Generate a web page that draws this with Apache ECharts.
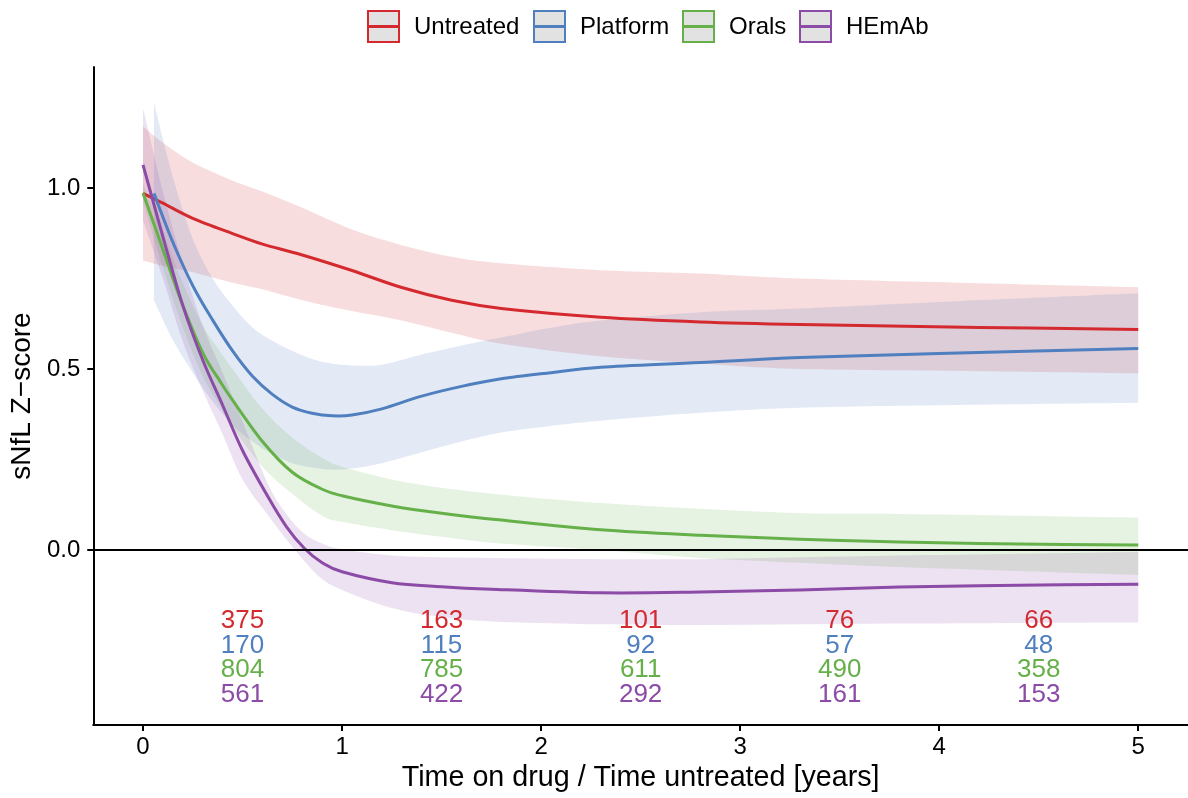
<!DOCTYPE html>
<html>
<head>
<meta charset="utf-8">
<script src="https://cdn.jsdelivr.net/npm/echarts@6/dist/echarts.min.js"></script>
<style>
html,body{margin:0;padding:0;background:#fff;}
#chart{width:1188px;height:798px;}
</style>
</head>
<body>
<div id="chart"></div>
<script>
// ---------------- data ----------------
const groupNames = ['Untreated', 'Platform', 'Orals', 'HEmAb'];
const groupColors = ['#D42A2F', '#4F7FBF', '#66B04A', '#8B4BA6'];

const untreatedX   = [0, 0.1, 0.25, 0.45, 0.6, 0.8, 1.05, 1.3, 1.55, 1.8, 2.3, 2.8, 3.3, 4.2, 5];
const untreatedFit = [0.985, 0.958, 0.916, 0.874, 0.845, 0.815, 0.772, 0.725, 0.69, 0.667, 0.643, 0.63, 0.623, 0.615, 0.609];
const untreatedHi  = [1.17, 1.125, 1.07, 1.02, 0.99, 0.945, 0.885, 0.842, 0.81, 0.792, 0.773, 0.764, 0.75, 0.737, 0.726];
const untreatedLo  = [0.80, 0.785, 0.767, 0.738, 0.72, 0.69, 0.66, 0.634, 0.60, 0.57, 0.535, 0.515, 0.50, 0.494, 0.488];

const platformX   = [0.055, 0.15, 0.25, 0.35, 0.45, 0.55, 0.65, 0.75, 0.85, 0.95, 1.05, 1.2, 1.4, 1.6, 1.8, 2.05, 2.3, 2.8, 3.3, 4.0, 5];
const platformFit = [0.985, 0.85, 0.73, 0.635, 0.55, 0.48, 0.43, 0.395, 0.378, 0.371, 0.373, 0.39, 0.425, 0.452, 0.473, 0.49, 0.505, 0.518, 0.532, 0.543, 0.557];
const platformHi  = [1.235, 1.03, 0.86, 0.75, 0.675, 0.615, 0.578, 0.55, 0.528, 0.515, 0.51, 0.512, 0.54, 0.565, 0.587, 0.614, 0.634, 0.657, 0.667, 0.685, 0.709];
const platformLo  = [0.69, 0.58, 0.49, 0.41, 0.345, 0.30, 0.265, 0.24, 0.228, 0.222, 0.225, 0.24, 0.27, 0.30, 0.325, 0.343, 0.357, 0.379, 0.393, 0.40, 0.407];

const oralsX   = [0, 0.1, 0.19, 0.3, 0.385, 0.45, 0.6, 0.75, 0.9, 1.0, 1.25, 1.5, 1.8, 2.3, 2.8, 3.3, 3.8, 4.4, 5];
const oralsFit = [0.986, 0.83, 0.69, 0.545, 0.468, 0.414, 0.30, 0.215, 0.168, 0.15, 0.122, 0.102, 0.083, 0.056, 0.041, 0.03, 0.022, 0.017, 0.014];
const oralsHi  = [1.01, 0.88, 0.75, 0.62, 0.55, 0.50, 0.39, 0.31, 0.255, 0.23, 0.195, 0.172, 0.153, 0.13, 0.114, 0.102, 0.10, 0.095, 0.09];
const oralsLo  = [0.96, 0.78, 0.63, 0.48, 0.40, 0.34, 0.23, 0.155, 0.095, 0.078, 0.055, 0.037, 0.018, 0.0, -0.022, -0.035, -0.047, -0.058, -0.069];

const hemabX   = [0, 0.1, 0.2, 0.3, 0.4, 0.5, 0.63, 0.72, 0.81, 0.9, 1.0, 1.25, 1.5, 1.75, 2.3, 2.8, 3.3, 3.8, 4.4, 5];
const hemabFit = [1.064, 0.865, 0.675, 0.525, 0.40, 0.275, 0.145, 0.065, 0.005, -0.035, -0.06, -0.09, -0.101, -0.108, -0.118, -0.116, -0.11, -0.102, -0.097, -0.094];
const hemabHi  = [1.22, 0.99, 0.79, 0.62, 0.49, 0.355, 0.18, 0.10, 0.045, 0.018, 0.002, -0.015, -0.02, -0.022, -0.025, -0.025, -0.02, -0.015, -0.01, -0.005];
const hemabLo  = [0.91, 0.75, 0.575, 0.44, 0.32, 0.195, 0.095, 0.03, -0.03, -0.08, -0.11, -0.16, -0.185, -0.197, -0.205, -0.207, -0.205, -0.203, -0.201, -0.20];

// numbers at risk
const countX = [0.5, 1.5, 2.5, 3.5, 4.5];
const untreatedN = [375, 163, 101, 76, 66];
const platformN  = [170, 115, 92, 57, 48];
const oralsN     = [804, 785, 611, 490, 358];
const hemabN     = [561, 422, 292, 161, 153];

const xTicks = [0, 1, 2, 3, 4, 5];
const yTicks = [0, 0.5, 1.0];

// ---------------- build ----------------
const groups = [
  {x: untreatedX, fit: untreatedFit, hi: untreatedHi, lo: untreatedLo, n: untreatedN},
  {x: platformX, fit: platformFit, hi: platformHi, lo: platformLo, n: platformN},
  {x: oralsX, fit: oralsFit, hi: oralsHi, lo: oralsLo, n: oralsN},
  {x: hemabX, fit: hemabFit, hi: hemabHi, lo: hemabLo, n: hemabN}
];
const FONT = '"Liberation Sans", Arial, Helvetica, sans-serif';
const series = [];

// Catmull-Rom -> cubic bezier path segments through pixel points
function curveSegs(pts) {
  let d = '';
  for (let i = 0; i < pts.length - 1; i++) {
    const p0 = pts[Math.max(0, i - 1)], p1 = pts[i], p2 = pts[i + 1], p3 = pts[Math.min(pts.length - 1, i + 2)];
    const c1 = [p1[0] + (p2[0] - p0[0]) / 6, p1[1] + (p2[1] - p0[1]) / 6];
    const c2 = [p2[0] - (p3[0] - p1[0]) / 6, p2[1] - (p3[1] - p1[1]) / 6];
    d += ' C' + c1[0] + ' ' + c1[1] + ' ' + c2[0] + ' ' + c2[1] + ' ' + p2[0] + ' ' + p2[1];
  }
  return d;
}

// confidence ribbons
groups.forEach((g, i) => {
  const fill = echarts.color.modifyAlpha(groupColors[i], 0.16);
  series.push({
    type: 'custom', name: groupNames[i] + ' band', silent: true, z: 1, clip: true,
    data: g.x.map((x, k) => [x, g.lo[k], g.hi[k]]),
    encode: {x: 0, y: [1, 2]},
    renderItem: (params, api) => {
      if (params.dataIndexInside !== 0) return null;
      const n = params.dataInsideLength;
      const up = [], dn = [];
      for (let k = 0; k < n; k++) {
        const x = api.value(0, k);
        up.push(api.coord([x, api.value(2, k)]));
        dn.push(api.coord([x, api.value(1, k)]));
      }
      dn.reverse();
      let d = 'M' + up[0][0] + ' ' + up[0][1] + curveSegs(up);
      d += ' L' + dn[0][0] + ' ' + dn[0][1] + curveSegs(dn) + ' Z';
      return {type: 'path', shape: {pathData: d}, style: {fill: fill, stroke: null}};
    }
  });
});

// fitted curves
groups.forEach((g, i) => {
  series.push({
    type: 'custom', name: groupNames[i], silent: true, z: 3, clip: true,
    data: g.x.map((x, k) => [x, g.fit[k]]),
    encode: {x: 0, y: 1},
    renderItem: (params, api) => {
      if (params.dataIndexInside !== 0) return null;
      const n = params.dataInsideLength;
      const pts = [];
      for (let k = 0; k < n; k++) pts.push(api.coord([api.value(0, k), api.value(1, k)]));
      const d = 'M' + pts[0][0] + ' ' + pts[0][1] + curveSegs(pts);
      return {type: 'path', shape: {pathData: d},
        style: {fill: null, stroke: groupColors[i], lineWidth: 3, lineJoin: 'round', lineCap: 'butt'}};
    }
  });
});

// numbers at risk
const rowY = [-0.194, -0.263, -0.332, -0.401];
groups.forEach((g, i) => {
  const s = {
    type: 'scatter', name: groupNames[i] + ' n',
    data: countX.map((x, k) => [x, rowY[i], g.n[k]]),
    symbolSize: 0, silent: true, z: 2,
    itemStyle: {opacity: 1},
    label: {
      show: true, position: 'inside',
      formatter: p => String(p.value[2]),
      color: groupColors[i], fontSize: 26, fontFamily: FONT
    }
  };
  if (i === 0) {
    s.markLine = {
      silent: true, symbol: ['none', 'none'], label: {show: false},
      lineStyle: {color: '#000', width: 2, type: 'solid'},
      emphasis: {disabled: true},
      data: [{yAxis: 0}]
    };
  }
  series.push(s);
});

// legend (ggplot style keys)
const keyX = [368, 534, 683, 800];
const legendEls = [];
groupNames.forEach((nm, i) => {
  legendEls.push({type: 'rect', shape: {x: keyX[i], y: 11, width: 31, height: 31},
    style: {fill: '#E2E2E2', stroke: groupColors[i], lineWidth: 2}});
  legendEls.push({type: 'line', shape: {x1: keyX[i] + 1, y1: 26.5, x2: keyX[i] + 30, y2: 26.5},
    style: {stroke: groupColors[i], lineWidth: 3}});
  legendEls.push({type: 'text', x: keyX[i] + 46, y: 27,
    style: {text: nm, fill: '#000', font: '24px ' + FONT, verticalAlign: 'middle', textAlign: 'left'}});
});

const chart = echarts.init(document.getElementById('chart'), null, {renderer: 'canvas'});
chart.setOption({
  animation: false,
  backgroundColor: '#fff',
  grid: {left: 91, top: 67, width: 1099, height: 658, containLabel: false},
  xAxis: {
    type: 'value', min: -0.25, max: 5.25,
    name: 'Time on drug / Time untreated [years]', nameLocation: 'middle', nameGap: 35,
    nameTextStyle: {fontSize: 28.7, color: '#000', fontFamily: FONT},
    axisLine: {onZero: false, lineStyle: {color: '#000', width: 2}},
    axisTick: {show: true, length: 6, lineStyle: {color: '#000', width: 2}, customValues: xTicks},
    axisLabel: {fontSize: 24, color: '#000', fontFamily: FONT, margin: 10, customValues: xTicks,
      formatter: v => String(v)},
    splitLine: {show: false}
  },
  yAxis: {
    type: 'value', min: -0.483, max: 1.334,
    name: 'sNfL Z\u2212score', nameLocation: 'middle', nameGap: 43, nameRotate: 90,
    nameTextStyle: {fontSize: 28, color: '#000', fontFamily: FONT},
    axisLine: {onZero: false, lineStyle: {color: '#000', width: 2}},
    axisTick: {show: true, length: 6, lineStyle: {color: '#000', width: 2}, customValues: yTicks},
    axisLabel: {fontSize: 24, color: '#000', fontFamily: FONT, margin: 13, customValues: yTicks,
      formatter: v => v.toFixed(1)},
    splitLine: {show: false}
  },
  graphic: legendEls,
  series: series
});
</script>
</body>
</html>
